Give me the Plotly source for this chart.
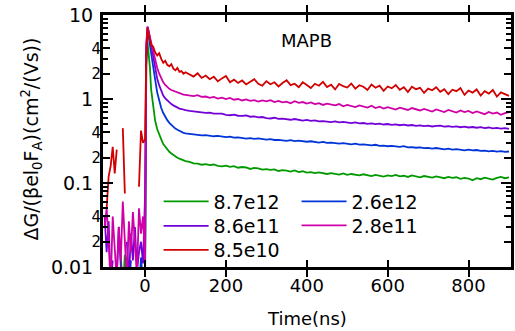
import plotly.graph_objects as go

# ---------------- data ----------------
t_pre = [-100, -95, -90, -85, -80, -75, -70, -65, -60, -55,
         -50, -45, -40, -35, -30, -25, -20, -15, -10, -5]
t_early = [0, 3, 6, 9, 12, 15, 20, 25, 30, 35, 40, 45, 50, 55, 60, 65, 70, 75, 80, 85, 90, 95, 100]
t_late = list(range(110, 910, 10))
time_ns = t_pre + t_early + t_late

labels = ["8.7e12", "2.6e12", "8.6e11", "2.8e11", "8.5e10"]
colors = ["#009a00", "#0034d8", "#7200d8", "#d000a8", "#d20000"]

green_pre = [None, None, None, None, None, None, None, None, 0.014, 0.005,
             0.014, 0.006, None, None, None, None, None, None, None, None]
green_early = [0.008, 2.5, 4.8, 3.6, 2.4, 1.3, 0.8, 0.55, 0.44, 0.37, 0.33, 0.29,
               0.27, 0.25, 0.235, 0.225, 0.215, 0.207, 0.2, 0.195, 0.19, 0.186, 0.182]
green_late = [0.178, 0.171, 0.170, 0.165, 0.168, 0.163, 0.166, 0.160, 0.158, 0.161,
              0.156, 0.159, 0.152, 0.155, 0.153, 0.147, 0.151, 0.149, 0.144, 0.146,
              0.143, 0.145, 0.139, 0.142, 0.140, 0.137, 0.141, 0.135, 0.138, 0.133,
              0.135, 0.131, 0.134, 0.132, 0.128, 0.131, 0.129, 0.126, 0.130, 0.125,
              0.128, 0.126, 0.123, 0.127, 0.124, 0.121, 0.125, 0.122, 0.119, 0.123,
              0.121, 0.125, 0.120, 0.122, 0.118, 0.123, 0.120, 0.117, 0.121, 0.118,
              0.116, 0.120, 0.117, 0.114, 0.118, 0.115, 0.117, 0.112, 0.115, 0.113,
              0.108, 0.114, 0.111, 0.116, 0.113, 0.110, 0.115, 0.118, 0.114, 0.117]

blue_pre = [None, None, None, None, None, None, None, None, None, None,
            None, 0.013, 0.005, 0.012, None, None, None, 0.005, 0.013, 0.006]
blue_early = [0.006, 3.0, 6.5, 5.5, 4.5, 3.6, 2.5, 1.7, 1.2, 0.92, 0.78, 0.68,
              0.61, 0.56, 0.52, 0.49, 0.465, 0.445, 0.43, 0.415, 0.405, 0.395, 0.39]
blue_late = [0.383, 0.376, 0.374, 0.368, 0.371, 0.362, 0.360, 0.364, 0.355, 0.352,
             0.356, 0.347, 0.349, 0.344, 0.338, 0.343, 0.336, 0.339, 0.331, 0.329,
             0.333, 0.325, 0.327, 0.322, 0.318, 0.323, 0.316, 0.319, 0.312, 0.310,
             0.314, 0.306, 0.303, 0.308, 0.300, 0.302, 0.297, 0.294, 0.299, 0.291,
             0.289, 0.294, 0.286, 0.288, 0.283, 0.280, 0.285, 0.277, 0.279, 0.274,
             0.277, 0.271, 0.269, 0.274, 0.266, 0.268, 0.263, 0.266, 0.260, 0.262,
             0.257, 0.261, 0.255, 0.252, 0.257, 0.250, 0.253, 0.248, 0.245, 0.250,
             0.244, 0.247, 0.241, 0.243, 0.238, 0.241, 0.236, 0.239, 0.235, 0.237]

purple_pre = [0.04, 0.015, 0.035, 0.006, 0.012, None, 0.008, 0.03, 0.01, None,
              None, 0.02, 0.007, 0.025, 0.012, 0.03, 0.009, 0.015, 0.02, 0.011]
purple_early = [0.07, 4.0, 7.3, 6.4, 5.3, 4.3, 3.1, 2.3, 1.75, 1.45, 1.25, 1.1,
                1.02, 0.96, 0.91, 0.87, 0.84, 0.81, 0.79, 0.77, 0.76, 0.745, 0.735]
purple_late = [0.722, 0.708, 0.701, 0.692, 0.684, 0.690, 0.671, 0.664, 0.669, 0.648,
               0.641, 0.652, 0.632, 0.628, 0.636, 0.615, 0.621, 0.604, 0.610, 0.592,
               0.586, 0.598, 0.579, 0.583, 0.571, 0.566, 0.578, 0.561, 0.553, 0.564,
               0.548, 0.556, 0.541, 0.546, 0.538, 0.531, 0.542, 0.527, 0.533, 0.521,
               0.515, 0.526, 0.512, 0.518, 0.507, 0.513, 0.501, 0.509, 0.497, 0.504,
               0.493, 0.499, 0.487, 0.496, 0.484, 0.490, 0.479, 0.486, 0.475, 0.481,
               0.471, 0.478, 0.483, 0.470, 0.474, 0.466, 0.472, 0.461, 0.468, 0.458,
               0.464, 0.455, 0.462, 0.451, 0.458, 0.447, 0.453, 0.444, 0.450, 0.441]

magenta_pre = [0.03, 0.05, 0.02, 0.006, 0.04, 0.015, 0.007, 0.03, 0.012, 0.06,
               0.02, 0.007, 0.035, 0.015, 0.045, 0.02, 0.008, 0.05, 0.025, 0.04]
magenta_early = [0.012, 4.5, 7.2, 6.3, 5.4, 4.6, 3.7, 2.9, 2.35, 2.0, 1.75, 1.58,
                 1.47, 1.38, 1.32, 1.28, 1.25, 1.22, 1.19, 1.17, 1.15, 1.13, 1.12]
magenta_late = [1.10, 1.08, 1.11, 1.06, 1.07, 1.03, 1.06, 1.01, 1.04, 1.00,
                1.03, 0.98, 1.00, 0.96, 0.99, 0.95, 0.97, 0.93, 0.96, 0.94,
                0.97, 0.92, 0.95, 0.91, 0.93, 0.89, 0.94, 0.90, 0.92, 0.88,
                0.91, 0.87, 0.89, 0.85, 0.88, 0.86, 0.84, 0.87, 0.82, 0.85,
                0.83, 0.80, 0.84, 0.81, 0.79, 0.83, 0.78, 0.81, 0.77, 0.80,
                0.78, 0.75, 0.79, 0.76, 0.74, 0.78, 0.75, 0.73, 0.76, 0.74,
                0.71, 0.75, 0.72, 0.70, 0.74, 0.71, 0.69, 0.73, 0.70, 0.72,
                0.68, 0.71, 0.69, 0.66, 0.70, 0.67, 0.69, 0.65, 0.68, 0.70]

red_pre = [None, 0.05, 0.12, 0.16, 0.27, 0.13, 0.25, None, None, 0.45,
           0.075, None, None, None, None, None, None, 0.09, 0.42, 0.3]
red_early = [0.33, 3.5, 7.0, 5.9, 4.8, 4.4, 4.2, 3.6, 3.3, 3.5, 3.0, 2.7,
             2.85, 2.55, 2.45, 2.6, 2.3, 2.2, 2.35, 2.1, 2.15, 2.0, 2.08]
red_late = [1.98, 1.85, 2.02, 1.78, 1.90, 1.72, 1.84, 1.62, 1.76, 1.88,
            1.58, 1.70, 1.55, 1.66, 1.49, 1.61, 1.72, 1.52, 1.44, 1.63,
            1.50, 1.58, 1.41, 1.55, 1.67, 1.46, 1.52, 1.38, 1.58, 1.47,
            1.35, 1.52, 1.44, 1.60, 1.39, 1.48, 1.30, 1.51, 1.42, 1.37,
            1.53, 1.33, 1.46, 1.40, 1.28, 1.49, 1.36, 1.44, 1.25, 1.41,
            1.34, 1.47, 1.29, 1.38, 1.21, 1.40, 1.31, 1.36, 1.18, 1.33,
            1.27, 1.38, 1.22, 1.31, 1.14, 1.29, 1.24, 1.35, 1.12, 1.26,
            1.19, 1.30, 1.10, 1.24, 1.16, 1.28, 1.07, 1.20, 1.14, 1.09]

series = {
    "8.7e12": green_pre + green_early + green_late,
    "2.6e12": blue_pre + blue_early + blue_late,
    "8.6e11": purple_pre + purple_early + purple_late,
    "2.8e11": magenta_pre + magenta_early + magenta_late,
    "8.5e10": red_pre + red_early + red_late,
}

decade_vals = [0.01, 0.1, 1, 10]
decade_text = ["0.01", "0.1", "1", "10"]
half_vals = [0.02, 0.04, 0.2, 0.4, 2, 4]
half_text = ["2", "4", "2", "4", "2", "4"]
minor_vals = [m * d for d in (0.01, 0.1, 1) for m in (2, 3, 4, 5, 6, 7, 8, 9)]
x_ticks = [0, 200, 400, 600, 800]

FONT = "DejaVu Sans"

# legend slot per entry: (legend id, left px, row-centre px)
legend_slot = {
    "8.7e12": ("legend", 159, 201.5),
    "8.6e11": ("legend2", 159, 226),
    "8.5e10": ("legend3", 159, 250),
    "2.6e12": ("legend4", 298, 201.5),
    "2.8e11": ("legend5", 298, 225.5),
}

fig = go.Figure()
for lab, col in zip(labels, colors):
    fig.add_trace(go.Scatter(x=time_ns, y=series[lab], mode="lines", name=lab,
                             line=dict(color=col, width=1.8),
                             legend=legend_slot[lab][0], connectgaps=False))
fig.add_trace(go.Scatter(x=[], y=[], yaxis="y2", showlegend=False))

PL, PR, PT, PB = 103, 514, 15, 267
PW, PH = PR - PL, PB - PT

legends = {}
for lab, (lid, lx, ly) in legend_slot.items():
    legends[lid] = dict(x=(lx - PL) / PW, y=(PB - ly) / PH, xanchor="left",
                        yanchor="middle", bgcolor="rgba(0,0,0,0)",
                        font=dict(size=19, family=FONT), itemwidth=45,
                        tracegroupgap=0, visible=True)

fig.update_layout(
    width=515, height=331, showlegend=True,
    margin=dict(l=PL, r=515 - PR, t=PT, b=331 - PB),
    paper_bgcolor="white", plot_bgcolor="white",
    font=dict(family=FONT, color="black", size=18),
    xaxis=dict(range=[-104, 905], tickvals=x_ticks, ticks="inside", ticklen=7,
               tickwidth=2, tickcolor="black", showline=True, linewidth=3,
               linecolor="black", mirror="allticks", showgrid=False, zeroline=False,
               tickfont=dict(size=18, family=FONT)),
    yaxis=dict(type="log", range=[-2, 1], tickmode="array", tickvals=decade_vals,
               ticktext=decade_text, ticks="inside", ticklen=10, tickwidth=2,
               tickcolor="black", showline=True, linewidth=3, linecolor="black",
               mirror="allticks", showgrid=False, zeroline=False,
               tickfont=dict(size=19, family=FONT), ticklabelstandoff=3,
               minor=dict(tickmode="array", tickvals=minor_vals, ticks="inside",
                          ticklen=5, tickwidth=2, tickcolor="black", showgrid=False)),
    yaxis2=dict(type="log", range=[-2, 1], overlaying="y", side="left", anchor="x",
                tickmode="array", tickvals=half_vals, ticktext=half_text,
                ticks="inside", ticklen=7, tickwidth=2, tickcolor="black",
                showline=False, mirror="ticks", showgrid=False, zeroline=False,
                tickfont=dict(size=15, family=FONT), ticklabelstandoff=1),
    annotations=[
        dict(text="MAPB", x=(308 - PL) / PW, y=(PB - 40) / PH, xref="paper",
             yref="paper", showarrow=False, xanchor="center", yanchor="middle",
             font=dict(size=18, family=FONT)),
        dict(text="ΔG/(βel<sub>0</sub>F<sub>A</sub>)(cm<sup>2</sup>/(Vs))",
             x=(30 - PL) / PW, y=(PB - 139) / PH, xref="paper", yref="paper",
             textangle=-90, showarrow=False, xanchor="center", yanchor="middle",
             font=dict(size=19, family=FONT)),
        dict(text="Time(ns)", x=0.5, y=(PB - 318) / PH, xref="paper", yref="paper",
             showarrow=False, xanchor="center", yanchor="middle",
             font=dict(size=18, family=FONT)),
    ],
)
fig.update_layout(**legends)

fig.write_html("out.html")
